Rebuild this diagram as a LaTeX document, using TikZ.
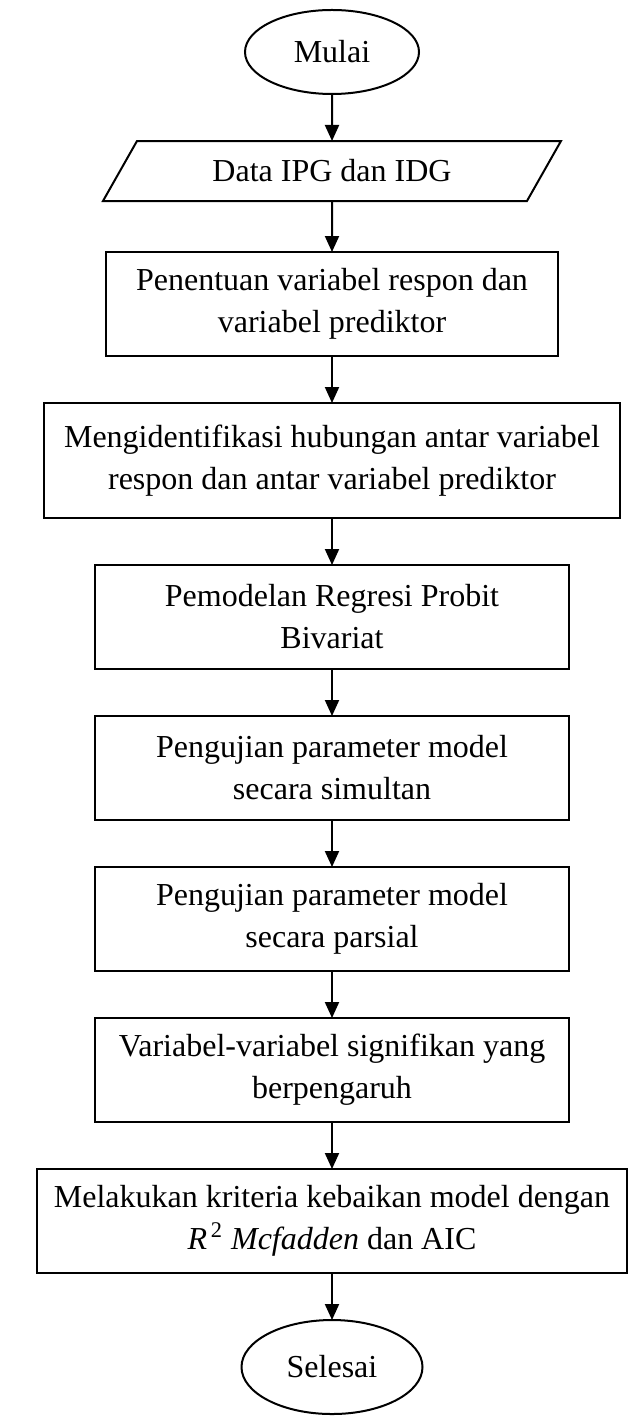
\documentclass[tikz,border=0pt]{standalone}
\usepackage{fontspec}
\setmainfont{Liberation Serif}
\usetikzlibrary{arrows.meta, positioning, shapes.geometric}

\begin{document}
\begin{tikzpicture}[
  node distance=23.5pt,
  every node/.style={draw, line width=1pt, align=center, inner sep=0pt, outer sep=0pt, font=\fontsize{16pt}{21pt}\selectfont},
  terminal/.style={ellipse, minimum width=87pt, minimum height=42pt},
  io/.style={trapezium, trapezium left angle=33.5, trapezium right angle=146.5, trapezium stretches body, minimum width=229pt, minimum height=30pt},
  process/.style={rectangle, minimum width=237pt, minimum height=52pt},
  arrow/.style={-{Triangle[length=8pt, width=7pt]}, line width=1pt}
]
\useasboundingbox (0,0) rectangle (316.5pt,-708pt);

\node[terminal] (mulai) at (166pt,-26pt) {Mulai};
\node[io] (data) [below=of mulai] {Data IPG dan IDG};
\node[process, minimum width=226pt] (respon) [below=25.5pt of data] {Penentuan variabel respon dan\\variabel prediktor};
\node[process, minimum width=288pt, minimum height=57.5pt] (hubungan) [below=of respon] {Mengidentifikasi hubungan antar variabel\\respon dan antar variabel prediktor};
\node[process] (pemodelan) [below=of hubungan] {Pemodelan Regresi Probit\\Bivariat};
\node[process] (simultan) [below=of pemodelan] {Pengujian parameter model\\secara simultan};
\node[process] (parsial) [below=of simultan] {Pengujian parameter model\\secara parsial};
\node[process] (signifikan) [below=of parsial] {Variabel-variabel signifikan yang\\berpengaruh};
\node[process, minimum width=295pt] (kebaikan) [below=of signifikan] {Melakukan kriteria kebaikan model dengan\\\textit{R}\textsuperscript{\,2} \textit{Mcfadden} dan AIC};
\node[terminal, minimum width=90.5pt, minimum height=47pt] (selesai) [below=of kebaikan] {Selesai};

\draw [arrow] (mulai) -- (data);
\draw [arrow] (data) -- (respon);
\draw [arrow] (respon) -- (hubungan);
\draw [arrow] (hubungan) -- (pemodelan);
\draw [arrow] (pemodelan) -- (simultan);
\draw [arrow] (simultan) -- (parsial);
\draw [arrow] (parsial) -- (signifikan);
\draw [arrow] (signifikan) -- (kebaikan);
\draw [arrow] (kebaikan) -- (selesai);
\end{tikzpicture}
\end{document}
